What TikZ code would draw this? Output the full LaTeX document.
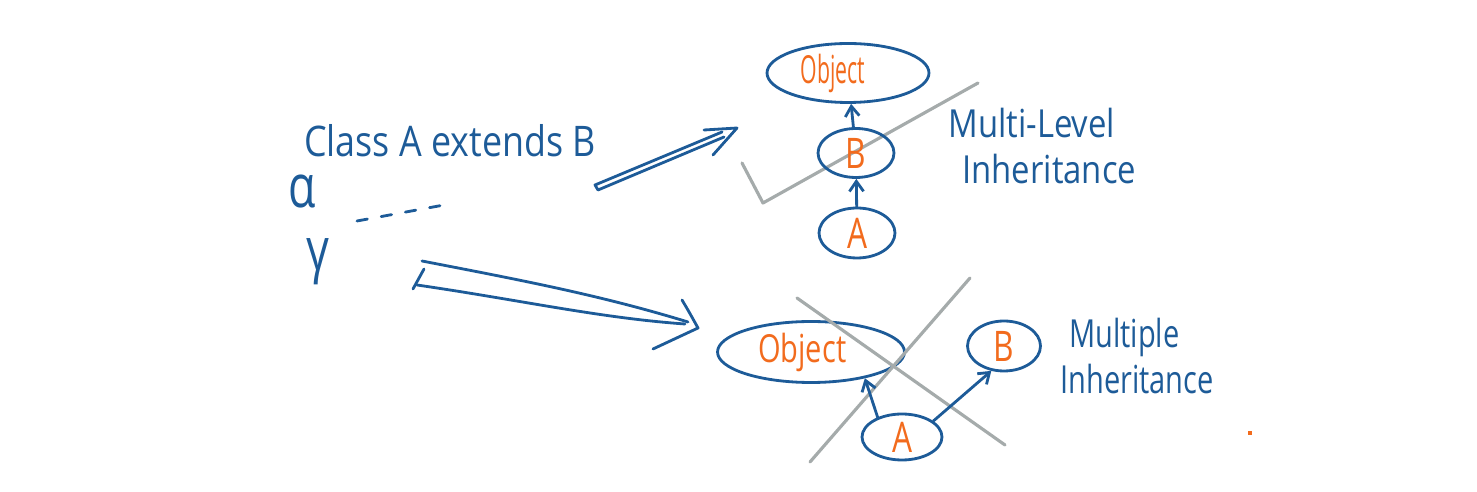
\documentclass[tikz,border=0pt]{standalone}
\usepackage{fontspec}
\setmainfont{Open Sans}
\newfontfamily\handA[FakeStretch=0.85]{Open Sans}
\newfontfamily\handB[FakeStretch=0.75]{Open Sans}
\newfontfamily\handC[FakeStretch=0.55]{Open Sans}
\usetikzlibrary{shapes.geometric,arrows.meta}
\definecolor{ink}{HTML}{1D5B98}
\definecolor{org}{HTML}{F26B1D}
\definecolor{pencil}{HTML}{A5ABAB}
\begin{document}
\begin{tikzpicture}[x=0.02cm,y=-0.02cm,line cap=round,line join=round,
  inkline/.style={draw=ink,line width=1.6pt},
  graymark/.style={draw=pencil,line width=1.8pt},
  oval/.style={ellipse,draw=ink,line width=1.6pt,inner sep=0pt,text=org},
  tree/.style={inkline,-{Straight Barb[angle=70:7pt,line width=1.6pt]}},
  note/.style={text=ink,inner sep=0pt}]
\useasboundingbox (0,0) rectangle (1477,492);

% left side text
\node[note,font=\handA\fontsize{24}{28}\selectfont] (title) at (450,141) {Class A extends B};
\node[note,font=\handB\fontsize{34}{36}\selectfont] (alpha) at (302,192) {α};
\node[note,font=\handB\fontsize{34}{36}\selectfont] (gamma) at (318,262) {γ};
\coordinate (d1) at (357,221);
\coordinate (d2) at (444,205);
\draw[inkline,dash pattern=on 6pt off 8pt] (d1) -- (d2);

% upper hollow arrow
\coordinate (ua) at (595,185);
\coordinate (ub) at (598,190);
\coordinate (uc) at (722,132);
\coordinate (ud) at (724,137);
\coordinate (utip) at (737,128);
\coordinate (ub1) at (704,130);
\coordinate (ub2) at (713,155);
\draw[inkline] (uc) -- (ua) -- (ub) -- (ud);
\draw[inkline] (ub1) -- (utip) -- (ub2);

% lower hollow arrow
\coordinate (la) at (422,261);
\coordinate (lb) at (417,285);
\coordinate (lc1) at (424,269);
\coordinate (lc2) at (413,289);
\coordinate (le) at (688,322);
\coordinate (lf) at (685,324);
\coordinate (ltip) at (698,328);
\coordinate (lb1) at (682,300);
\coordinate (lb2) at (653,349);
\draw[inkline] (la) .. controls (520,280) and (600,295) .. (le);
\draw[inkline] (lb) .. controls (520,300) and (600,318) .. (lf);
\draw[inkline] (lc1) -- (lc2);
\draw[inkline] (lb1) .. controls (688,310) .. (ltip) -- (lb2);

% multi-level tree
\draw[graymark] (742,163) -- (763,203) -- (978,83);
\node[oval,minimum width=3.24cm,minimum height=1.18cm,font=\handC\fontsize{22}{24}\selectfont] (o1) at (848,73) {\hspace{-0.6cm}Object};
\node[oval,minimum width=1.52cm,minimum height=0.98cm,font=\handB\fontsize{24}{26}\selectfont] (b1) at (856,153) {B};
\node[oval,minimum width=1.52cm,minimum height=1.0cm,font=\handB\fontsize{24}{26}\selectfont] (a1) at (857,233) {A};
\draw[tree] (b1) -- (o1);
\draw[tree] (a1) -- (b1);
\node[note,font=\handA\fontsize{22}{26}\selectfont,anchor=north west,align=left] (ml) at (948,108) {Multi-Level\\\hspace{8pt}Inheritance};

% multiple inheritance
\node[oval,minimum width=3.74cm,minimum height=1.22cm,font=\handB\fontsize{22}{24}\selectfont] (o2) at (811,352) {\hspace{-0.35cm}Object};
\node[oval,minimum width=1.46cm,minimum height=1.0cm,font=\handB\fontsize{24}{26}\selectfont] (b2) at (1004,346) {B};
\node[oval,minimum width=1.6cm,minimum height=0.92cm,font=\handB\fontsize{24}{26}\selectfont] (a2) at (902,437) {A};
\draw[graymark] (797,298) -- (1005,445);
\draw[graymark] (970,278) -- (810,462);
\draw[tree] (a2.141) -- (o2.-26);
\draw[tree] (a2.27) -- (b2.-117);
\node[note,font=\handB\fontsize{22}{26}\selectfont,anchor=north west,align=left] (mi) at (1060,318) {\hspace{5pt}Multiple\\Inheritance};
\fill[org] (1248,431) rectangle (1252,435);
\end{tikzpicture}
\end{document}
